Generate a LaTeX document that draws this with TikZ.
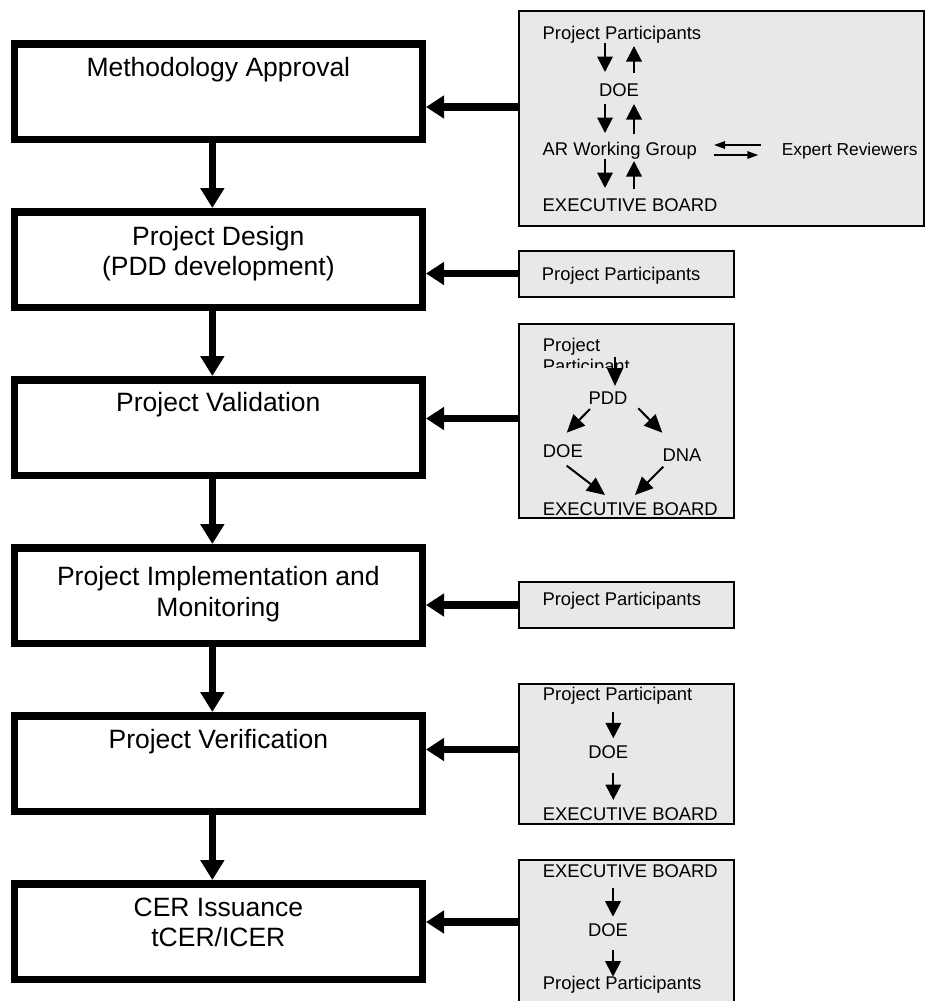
\documentclass[tikz,border=0pt]{standalone}
\usepackage{fontspec}
\setmainfont{Liberation Sans}
\usetikzlibrary{arrows.meta,calc}
\definecolor{boxgray}{RGB}{232,232,232}
\begin{document}
\begin{tikzpicture}[x=1pt,y=-1pt,
  mainbox/.style={draw=black, line width=7.5pt, minimum width=407.8pt, minimum height=95.5pt, inner sep=0pt, fill=white},
  maintext/.style={font=\fontsize{26.5}{31}\selectfont, anchor=base, inner sep=0pt},
  sidebox/.style={draw=black, line width=2pt, fill=boxgray, inner sep=0pt, minimum width=215pt},
  sidetext/.style={font=\fontsize{18.4}{22}\selectfont, anchor=base west, inner sep=0pt},
  sidetextc/.style={font=\fontsize{18.4}{22}\selectfont, anchor=base, inner sep=0pt},
  bigarrow/.style={line width=7.5pt, -{Triangle[width=23pt,length=20pt]}},
  sidearrow/.style={line width=7.3pt, -{Triangle[width=22pt,length=18pt]}},
  smallarrow/.style={line width=2pt, -{Triangle[width=15.5pt,length=15.5pt]}},
  diagarrow/.style={line width=2pt, -{Triangle[width=16pt,length=18pt]}},
  tinyarrow/.style={line width=1.5pt, -{Triangle[width=7.5pt,length=11pt]}},
]
\clip (0,0) rectangle (926,1001);

% main boxes
\node[mainbox] (m1) at (218.35,91.5) {};
\node[mainbox] (m2) at (218.35,259.5) {};
\node[mainbox] (m3) at (218.35,427.5) {};
\node[mainbox] (m4) at (218.35,595.5) {};
\node[mainbox] (m5) at (218.35,763.5) {};
\node[mainbox] (m6) at (218.35,931.5) {};

\node[maintext] (t1) at (218.35,76) {Methodology Approval};
\node[maintext] (t2a) at (218.35,245) {Project Design};
\node[maintext] (t2b) at (218.35,275.5) {(PDD development)};
\node[maintext] (t3) at (218.35,411.7) {Project Validation};
\node[maintext] (t4a) at (218.35,585.7) {Project Implementation and};
\node[maintext] (t4b) at (218.35,616.7) {Monitoring};
\node[maintext] (t5) at (218.35,748.3) {Project Verification};
\node[maintext] (t6a) at (218.35,916) {CER Issuance};
\node[maintext] (t6b) at (218.35,946.7) {tCER/ICER};

\draw[bigarrow] ([xshift=-6pt]m1.south) -- ([xshift=-6pt]m2.north);
\draw[bigarrow] ([xshift=-6pt]m2.south) -- ([xshift=-6pt]m3.north);
\draw[bigarrow] ([xshift=-6pt]m3.south) -- ([xshift=-6pt]m4.north);
\draw[bigarrow] ([xshift=-6pt]m4.south) -- ([xshift=-6pt]m5.north);
\draw[bigarrow] ([xshift=-6pt]m5.south) -- ([xshift=-6pt]m6.north);

% side boxes
\node[sidebox, minimum width=405pt, minimum height=214.7pt] (r1) at (721.5,118.3) {};
\node[sidebox, minimum height=46pt] (r2) at (626.5,274) {};
\node[sidebox, minimum height=194.3pt] (r3) at (626.5,420.85) {};
\node[sidebox, minimum height=46.3pt] (r4) at (626.5,605.15) {};
\node[sidebox, minimum height=140.3pt] (r5) at (626.5,753.85) {};
\node[sidebox, minimum height=149.7pt] (r6) at (626.5,935.15) {};

% side connectors
\coordinate (a1) at ($(r1.west)+(0,-11.3)$);
\coordinate (a2) at ($(r2.west)+(0,-0.5)$);
\coordinate (a3) at ($(r3.west)+(0,-2.35)$);
\coordinate (a4) at ($(r4.west)+(0,-0.15)$);
\coordinate (a5) at ($(r5.west)+(0,-4.35)$);
\coordinate (a6) at ($(r6.west)+(0,-13.15)$);
\draw[sidearrow] (a1) -- (a1 -| m1.east);
\draw[sidearrow] (a2) -- (a2 -| m2.east);
\draw[sidearrow] (a3) -- (a3 -| m3.east);
\draw[sidearrow] (a4) -- (a4 -| m4.east);
\draw[sidearrow] (a5) -- (a5 -| m5.east);
\draw[sidearrow] (a6) -- (a6 -| m6.east);

% R1 content
\node[sidetext] (pp1) at (542.5,39) {Project Participants};
\node[sidetextc] (doe1) at (619,96.5) {DOE};
\node[sidetext] (ar) at (542.5,155) {AR Working Group};
\node[sidetext, font=\fontsize{17.3}{21}\selectfont] (er) at (781.7,155) {Expert Reviewers};
\node[sidetext] (eb1) at (542.5,211.7) {EXECUTIVE BOARD};
\draw[smallarrow] ($(pp1.base west)+(62.5,4)$) -- ($(doe1.base)+(-14,-24.5)$);
\draw[smallarrow] ($(doe1.base)+(15,-23.5)$) -- ($(pp1.base west)+(91.5,7)$);
\draw[smallarrow] ($(doe1.base)+(-14,7.5)$) -- ($(ar.base west)+(62.5,-22)$);
\draw[smallarrow] ($(ar.base west)+(91.5,-21)$) -- ($(doe1.base)+(15,7.5)$);
\draw[smallarrow] ($(ar.base west)+(62.5,4)$) -- ($(eb1.base west)+(62.5,-23.7)$);
\draw[smallarrow] ($(eb1.base west)+(91.5,-22.7)$) -- ($(ar.base west)+(91.5,6)$);
\draw[tinyarrow] ($(er.base west)+(-21,-10)$) -- ($(ar.base west)+(171.5,-10)$);
\draw[tinyarrow] ($(ar.base west)+(171.5,0)$) -- ($(er.base west)+(-23.4,0)$);

% R2 content
\node[sidetext] (pp2) at (541.7,280) {Project Participants};

% R3 content
\node[sidetext] (pr3) at (542.7,351) {Project};
\begin{scope}
\clip (540,355) rectangle (700,367.3);
\node[sidetext] (part3) at (542.7,372) {Participant};
\end{scope}
\node[sidetextc] (pdd) at (608,404.3) {PDD};
\node[sidetext] (doe3) at (542.7,457.3) {DOE};
\node[sidetext] (dna) at (662.3,461.7) {DNA};
\node[sidetext] (eb3) at (542.7,515.7) {EXECUTIVE BOARD};
\draw[diagarrow] ($(part3.base west)+(72.3,-15.3)$) -- ($(pdd.base)+(7,-18.3)$);
\draw[diagarrow] ($(pdd.base)+(-18,4.7)$) -- ($(doe3.base west)+(24,-24.6)$);
\draw[diagarrow] ($(pdd.base)+(30.3,4)$) -- ($(dna.base west)+(0,-29)$);
\draw[diagarrow] ($(doe3.base west)+(24,8.4)$) -- ($(eb3.base west)+(62.3,-20.7)$);
\draw[diagarrow] ($(dna.base west)+(1,5)$) -- ($(eb3.base west)+(92.3,-20.7)$);

% R4 content
\node[sidetext] (pp4) at (542.3,605.5) {Project Participants};

% R5 content
\node[sidetext] (pp5) at (542.7,700.7) {Project Participant};
\node[sidetextc] (doe5) at (608.3,758.3) {DOE};
\node[sidetext] (eb5) at (542.7,820) {EXECUTIVE BOARD};
\draw[smallarrow] ($(pp5.base west)+(70.6,11)$) -- ($(doe5.base)+(5,-20)$);
\draw[smallarrow] ($(doe5.base)+(5,14.4)$) -- ($(eb5.base west)+(70.6,-20)$);

% R6 content
\node[sidetext] (eb6) at (542.7,877.3) {EXECUTIVE BOARD};
\node[sidetextc] (doe6) at (608,936.7) {DOE};
\node[sidetext] (pp6) at (542.7,989.3) {Project Participants};
\draw[smallarrow] ($(eb6.base west)+(70.3,11)$) -- ($(doe6.base)+(5,-20)$);
\draw[smallarrow] ($(doe6.base)+(5,13.3)$) -- ($(pp6.base west)+(70.3,-12.6)$);
\end{tikzpicture}
\end{document}
